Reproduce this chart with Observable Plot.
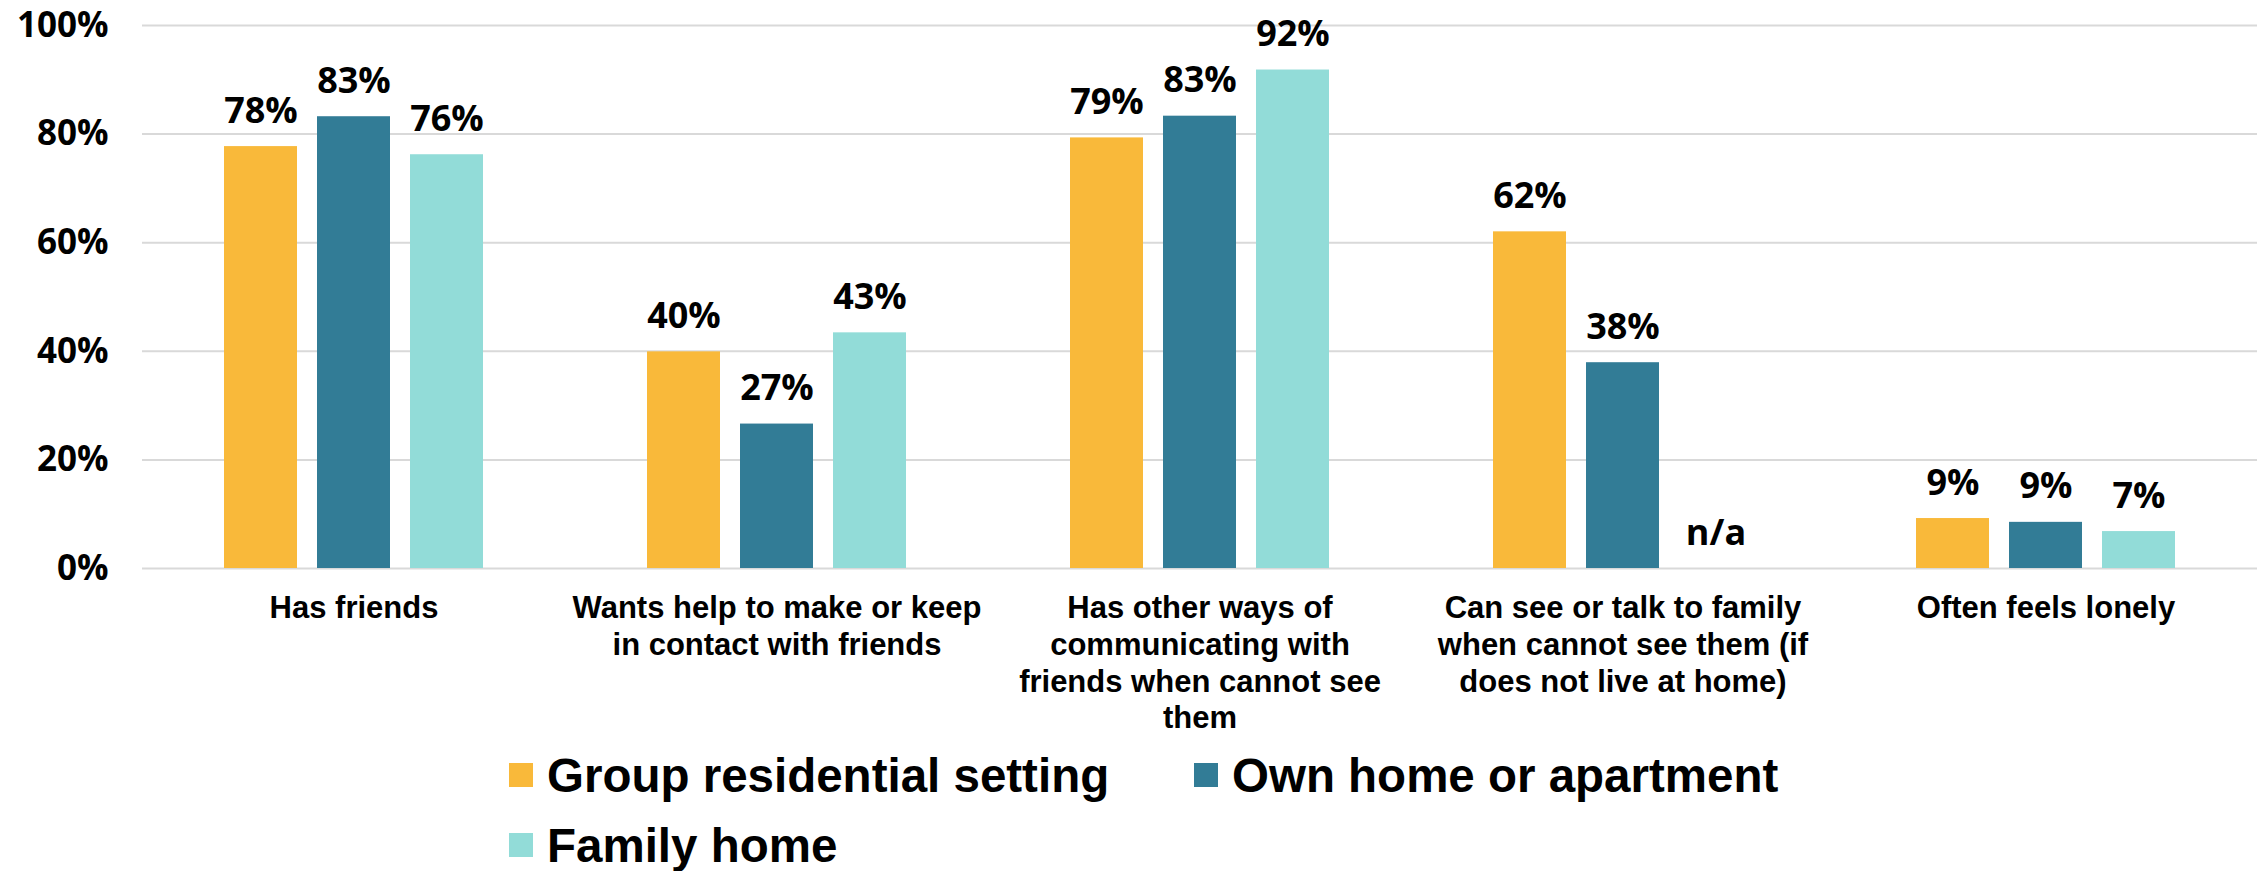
<!DOCTYPE html>
<html>
<head>
<meta charset="utf-8">
<script src="https://cdn.jsdelivr.net/npm/d3@7"></script>
<script src="https://cdn.jsdelivr.net/npm/@observablehq/plot@0.6"></script>
<style>
  body { margin: 0; background: #fff; overflow: hidden; }
  #legend {
    display: flex; flex-wrap: wrap;
    margin-left: 509px; width: 1400px;
    font-family: "Liberation Sans", Arial, sans-serif;
    font-weight: bold; font-size: 47.5px; color: #000;
  }
  .item { flex: 0 0 685px; height: 70px; display: flex; align-items: center; white-space: nowrap; }
  .sw { width: 24px; height: 24px; margin-right: 14px; flex: 0 0 24px; }
</style>
</head>
<body>
<div id="chart"></div>
<div id="legend"></div>
<script>
// ---- data ----
const categories = [
  "Has friends",
  "Wants help to make or keep in contact with friends",
  "Has other ways of communicating with friends when cannot see them",
  "Can see or talk to family when cannot see them (if does not live at home)",
  "Often feels lonely"
];
const categoryTickLabels = [
  "Has friends",
  "Wants help to make or keep\nin contact with friends",
  "Has other ways of\ncommunicating with\nfriends when cannot see\nthem",
  "Can see or talk to family\nwhen cannot see them (if\ndoes not live at home)",
  "Often feels lonely"
];
const series = ["Group residential setting", "Own home or apartment", "Family home"];
const seriesColors = ["#F9B93A", "#327C96", "#92DCD8"];
const groupResidential = [77.7, 39.9, 79.3, 62.0, 9.2];
const ownHome = [83.2, 26.6, 83.3, 37.9, 8.5];
const familyHome = [76.2, 43.4, 91.8, null, 6.8];
const yTicks = [0, 20, 40, 60, 80, 100];

// ---- build table ----
const seriesValues = [groupResidential, ownHome, familyHome];
const rows = [];
categories.forEach((c, i) => {
  series.forEach((s, j) => {
    const v = seriesValues[j][i];
    rows.push({
      category: c,
      series: s,
      value: v,
      label: v == null ? "n/a" : Math.round(v) + "%"
    });
  });
});
const bars = rows.filter(d => d.value != null);
const tickLabelOf = new Map(categories.map((c, i) => [c, categoryTickLabels[i]]));

const chart = Plot.plot({
  width: 2267,
  height: 740,
  marginLeft: 141,
  marginRight: 9,
  marginTop: 25,
  marginBottom: 172,
  style: { background: "#fff", fontFamily: "'Open Sans', sans-serif", color: "#000" },
  fx: { domain: categories, padding: 0, label: null },
  x: { domain: series, paddingInner: 0.2128, paddingOuter: 0.859, axis: null },
  y: { domain: [0, 100], label: null },
  color: { domain: series, range: seriesColors },
  marks: [
    Plot.gridY(yTicks, { stroke: "#D9D9D9", strokeWidth: 2, strokeOpacity: 1 }),
    Plot.barY(bars, { fx: "category", x: "series", y: "value", fill: "series" }),
    Plot.text(rows, {
      fx: "category", x: "series", y: d => d.value ?? 0, text: "label",
      lineAnchor: "bottom", dy: -24, fontSize: 36, fontWeight: "bold",
      fontFamily: "'Open Sans', sans-serif", fill: "#000"
    }),
    Plot.axisY(yTicks, {
      tickSize: 0, tickPadding: 34, tickFormat: d => d + "%",
      fontSize: 35, fontWeight: "bold", label: null, fill: "#000"
    }),
    Plot.axisFx({
      anchor: "bottom",
      tickSize: 0, tickPadding: 24, tickFormat: d => tickLabelOf.get(d),
      fontSize: 31, fontWeight: "bold", lineHeight: 1.18,
      fontFamily: "'Liberation Sans', Arial, sans-serif", label: null, fill: "#000"
    })
  ]
});
document.getElementById("chart").appendChild(chart);

// ---- legend ----
const legend = document.getElementById("legend");
series.forEach((s, j) => {
  const item = document.createElement("div");
  item.className = "item";
  const sw = document.createElement("span");
  sw.className = "sw";
  sw.style.background = seriesColors[j];
  const t = document.createElement("span");
  t.textContent = s;
  item.appendChild(sw);
  item.appendChild(t);
  legend.appendChild(item);
});
</script>
</body>
</html>
